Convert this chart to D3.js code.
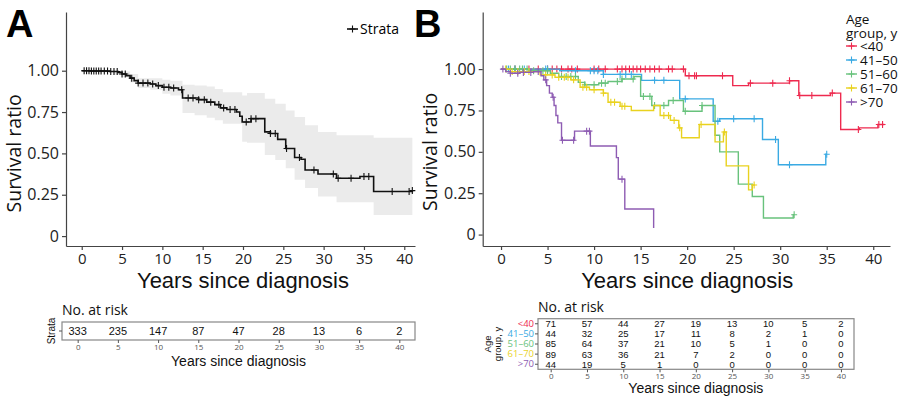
<!DOCTYPE html>
<html>
<head>
<meta charset="utf-8">
<script src="https://cdn.jsdelivr.net/npm/d3@7"></script>
<style>
  body { margin: 0; background: #fff; }
  svg { display: block; }
  .tick text { font-family: "Open Sans", sans-serif; }
</style>
</head>
<body>
<svg id="chart" width="900" height="397"></svg>
<script>
// ---- data ----
const yTicks = [0, 0.25, 0.5, 0.75, 1];
const yTickLabels = ["0", "0.25", "0.50", "0.75", "1.00"];
const xTicks = [0, 5, 10, 15, 20, 25, 30, 35, 40];

// panel A, all patients: [year, survival] steps
const allSteps = [[0,1.0],[1.0,0.998],[3.5,0.995],[4.5,0.99],[5.0,0.98],[5.5,0.97],[6.0,0.955],[6.5,0.94],[7.0,0.925],
  [8.5,0.92],[9.2,0.91],[10.0,0.9],[11.0,0.895],[12.0,0.885],[12.5,0.835],[14.5,0.825],[15.5,0.81],[16.5,0.795],
  [17.2,0.775],[18.0,0.765],[19.2,0.75],[19.6,0.725],[19.9,0.69],[21.0,0.71],[22.7,0.63],[23.4,0.62],[24.3,0.585],
  [25.3,0.53],[26.4,0.475],[27.2,0.465],[27.7,0.40],[29.3,0.375],[31.6,0.35],[34.5,0.36],[36.2,0.27],[41.0,0.275]];
const allCensored = [0.3,0.6,0.9,1.2,1.5,1.8,2.1,2.4,2.8,3.2,3.6,4.0,4.4,5.0,5.4,6.2,7.0,7.6,8.2,8.8,9.5,10.2,10.8,
  11.4,12.4,13.2,13.8,14.5,15.2,16.0,17.0,17.6,18.4,19.0,20.4,21.0,21.6,23.4,24.0,25.4,27.0,28.8,31.2,31.8,33.4,35.0,
  35.6,38.5,40.6,41.0];
// confidence band: [year, lower, upper]
const allBand = [[0,0.995,1.0],[2,0.99,1.0],[4,0.975,1.0],[5,0.96,0.995],[6,0.93,0.98],[7,0.895,0.955],[8.5,0.885,0.955],
  [10,0.86,0.945],[11,0.85,0.94],[12.5,0.745,0.915],[14,0.73,0.91],[15.5,0.715,0.905],[16.5,0.70,0.89],[17.5,0.68,0.87],
  [19.9,0.57,0.85],[20.5,0.565,0.865],[22.7,0.49,0.83],[24,0.46,0.80],[25.3,0.41,0.76],[26.4,0.34,0.72],[27.7,0.29,0.67],
  [29.3,0.24,0.63],[31.6,0.205,0.61],[36.2,0.128,0.595],[41.0,0.128,0.595]];
const allAtRisk = [333, 235, 147, 87, 47, 28, 13, 6, 2];

// panel B, age groups
const groups = ["<40", "41\u201350", "51\u201360", "61\u201370", ">70"];
const stepsU40 = [[0,1.0],[19.8,0.96],[24.9,0.90],[26.6,0.915],[31.0,0.93],[32.0,0.84],[35.4,0.855],[36.5,0.635],
  [38.5,0.645],[40.5,0.665],[41.2,0.665]];
const stepsA41 = [[0,1.0],[6.3,0.99],[11.0,0.968],[15.1,0.932],[19.2,0.82],[22.8,0.685],[23.5,0.70],[28.1,0.575],
  [29.8,0.422],[34.9,0.485],[35.0,0.485]];
const stepsA51 = [[0,1.0],[3.0,0.99],[5.3,0.975],[6.2,0.955],[8.3,0.92],[9.0,0.905],[10.5,0.915],[11.5,0.925],
  [13.0,0.94],[14.3,0.955],[15.0,0.835],[16.2,0.78],[18.0,0.81],[19.6,0.745],[21.6,0.78],[23.0,0.60],[23.5,0.50],
  [25.5,0.305],[27.0,0.23],[28.2,0.10],[31.4,0.12],[31.5,0.12]];
const stepsA61 = [[0,1.0],[1.0,0.985],[4.2,0.965],[5.8,0.95],[7.5,0.935],[8.5,0.89],[9.5,0.875],[11.0,0.855],
  [11.5,0.80],[12.8,0.775],[14.0,0.75],[16.4,0.78],[17.1,0.72],[18.2,0.69],[19.1,0.645],[19.4,0.585],[21.3,0.665],
  [23.0,0.56],[23.9,0.62],[24.2,0.415],[26.6,0.27],[27.0,0.30],[27.3,0.30]];
const stepsO70 = [[0,1.0],[0.5,0.985],[1.0,0.975],[2.0,0.98],[3.5,0.985],[4.3,0.96],[4.6,0.935],[4.9,0.90],
  [5.2,0.855],[5.5,0.83],[5.7,0.78],[5.9,0.72],[6.1,0.675],[6.5,0.57],[7.9,0.625],[9.6,0.535],[12.4,0.465],
  [12.6,0.335],[13.3,0.155],[16.4,0.04]];
const censU40 = [1.5,3,4,5,5.5,6.0,6.5,7.2,7.6,8.2,10,10.5,11.2,12.5,13,13.4,13.8,14.2,14.6,15,15.5,16,16.5,17,18,
  18.4,19.6,20.2,20.8,21.0,23.8,26.8,29.2,31.0,32.1,33.4,35.6,38.4,40.6,41.0];
const censA41 = [0.8,1.5,2.5,4.8,5.0,8.0,9.6,10.0,10.4,11.0,12.8,13.4,14.0,16.5,17.5,19.8,23.3,25.0,27.2,29.5,31.0,35.0];
const censA51 = [0.6,1.0,1.5,2.0,2.3,2.8,3.5,4.5,5.0,6.5,7.0,7.5,8.0,9.0,10.0,10.8,11.2,12.5,13.0,14.2,15.3,16.0,
  16.5,17.5,18.5,19.8,21.6,31.5];
const censA61 = [0.5,1.2,1.8,2.5,3.0,4.8,5.5,6.2,6.8,7.2,7.8,8.8,9.2,10.0,11.0,11.8,12.2,13.0,13.3,17.5,18.0,18.6,
  19.2,21.5,24.0,27.2];
const censO70 = [0.2,1.0,1.8,2.4,3.2,4.0,4.8,5.6,6.6,7.8,9.2,9.5,13.0];
const atRiskU40 = [71, 57, 44, 27, 19, 13, 10, 5, 2];
const atRiskA41 = [44, 32, 25, 17, 11, 8, 2, 1, 0];
const atRiskA51 = [85, 64, 37, 21, 10, 5, 1, 0, 0];
const atRiskA61 = [89, 63, 36, 21, 7, 2, 0, 0, 0];
const atRiskO70 = [44, 19, 5, 1, 0, 0, 0, 0, 0];

const groupColors = ["#ee2a4f", "#3aaae3", "#68c27c", "#e9d21f", "#8e5cb3"];
const groupSteps = [stepsU40, stepsA41, stepsA51, stepsA61, stepsO70];
const groupCens = [censU40, censA41, censA51, censA61, censO70];
const groupRisk = [atRiskU40, atRiskA41, atRiskA51, atRiskA61, atRiskO70];

const svg = d3.select("#chart");
const axisColor = "#444";
const arial = "Liberation Sans, Arial, sans-serif";
const open = "Open Sans, sans-serif";

function survAt(steps, t) {
  let v = steps[0][1];
  for (const s of steps) { if (s[0] <= t) v = s[1]; }
  return v;
}

function plusPath(x, y) {
  return `M${x - 3},${y}H${x + 3}M${x},${y - 3.5}V${y + 3.5}`;
}

function drawPanel(o) {
  const x = d3.scaleLinear().domain(o.xDomain).range(o.xRange);
  const y = d3.scaleLinear().domain(o.yDomain).range([246, 12]);
  const g = svg.append("g");

  if (o.band) {
    g.append("path").datum(o.band)
      .attr("fill", "#ebebeb")
      .attr("d", d3.area().curve(d3.curveStepAfter)
        .x(d => x(d[0])).y0(d => y(d[1])).y1(d => y(d[2])));
  }

  o.series.forEach(s => {
    g.append("path").datum(s.steps)
      .attr("fill", "none").attr("stroke", s.color).attr("stroke-width", o.lw)
      .attr("d", d3.line().curve(d3.curveStepAfter).x(d => x(d[0])).y(d => y(d[1])));
    g.append("g").selectAll("path").data(s.cens).join("path")
      .attr("fill", "none").attr("stroke", s.color).attr("stroke-width", 1.1)
      .attr("d", t => plusPath(x(t), y(survAt(s.steps, t))));
  });

  const ax = g.append("g").attr("transform", "translate(0,246)")
    .call(d3.axisBottom(x).tickValues(xTicks).tickSize(4).tickPadding(3).tickSizeOuter(0));
  ax.selectAll("text").attr("font-size", 15).attr("fill", "#222");
  const ay = g.append("g").attr("transform", `translate(${o.xRange[0]},0)`)
    .call(d3.axisLeft(y).tickValues(yTicks).tickFormat((d, i) => yTickLabels[i]).tickSize(4).tickPadding(3).tickSizeOuter(0));
  ay.selectAll("text").attr("font-size", 16).attr("fill", "#222");
  [ax, ay].forEach(a => { a.selectAll("line,path").attr("stroke", axisColor).attr("stroke-width", 1.2); });

  g.append("text").attr("x", (x(0) + x(40)) / 2).attr("y", 288).attr("text-anchor", "middle")
    .attr("font-family", arial).attr("font-size", 22).attr("fill", "#111")
    .text("Years since diagnosis");
  g.append("text").attr("transform", `translate(${o.yTitleX},${y(0.5)}) rotate(-90)`)
    .attr("text-anchor", "middle").attr("font-family", open).attr("font-size", 19.5).attr("fill", "#111")
    .text("Survival ratio");
  g.append("text").attr("x", o.letterX).attr("y", 37)
    .attr("font-family", arial).attr("font-weight", "bold").attr("font-size", 38)
    .text(o.letter);
}

drawPanel({
  letter: "A", letterX: 6, yTitleX: 21,
  xDomain: [-1.95, 41.33], xRange: [66, 415],
  yDomain: [-0.06, 1.355],
  band: allBand, lw: 1.6,
  series: [{ steps: allSteps, cens: allCensored, color: "#111" }]
});

drawPanel({
  letter: "B", letterX: 414, yTitleX: 437,
  xDomain: [-1.97, 41.8], xRange: [482.7, 890],
  yDomain: [-0.069, 1.345],
  lw: 1.4,
  series: groups.map((gname, i) => ({ steps: groupSteps[i], cens: groupCens[i], color: groupColors[i] }))
});

// legend A
const legA = svg.append("g");
legA.append("path").attr("d", "M347,29H358").attr("stroke", "#111").attr("stroke-width", 1.6);
legA.append("path").attr("d", plusPath(352.5, 29)).attr("stroke", "#111").attr("stroke-width", 1.1);
legA.append("text").attr("x", 360).attr("y", 34).attr("font-family", open).attr("font-size", 14).text("Strata");

// legend B
const legB = svg.append("g").attr("font-family", open).attr("font-size", 13.5).attr("fill", "#111");
legB.append("text").attr("x", 846).attr("y", 24).text("Age");
legB.append("text").attr("x", 846).attr("y", 38).text("group, y");
groups.forEach((gname, i) => {
  const yy = 46 + i * 14;
  legB.append("path").attr("d", `M846,${yy}H857`).attr("stroke", groupColors[i]).attr("stroke-width", 1.4);
  legB.append("path").attr("d", plusPath(851.5, yy)).attr("stroke", groupColors[i]).attr("stroke-width", 1.1);
  legB.append("text").attr("x", 860).attr("y", yy + 5).text(gname);
});

// risk tables
function drawTable(o) {
  const x = d3.scaleLinear().domain(o.xDomain).range([o.left, o.right]);
  const rows = d3.scaleBand().domain(o.labels).range([o.top, o.bottom]);
  const g = svg.append("g");
  g.append("text").attr("x", o.left).attr("y", o.top - 7).attr("font-family", open)
    .attr("font-size", 14).attr("fill", "#111").text("No. at risk");
  g.append("rect").attr("x", o.left).attr("y", o.top).attr("width", o.right - o.left).attr("height", o.bottom - o.top)
    .attr("fill", "none").attr("stroke", "#888").attr("stroke-width", 1.2);
  o.data.forEach((vals, r) => {
    g.append("g").selectAll("text").data(vals).join("text")
      .attr("x", (d, i) => x(xTicks[i])).attr("y", rows(o.labels[r]) + rows.bandwidth() / 2)
      .attr("dy", "0.36em").attr("text-anchor", "middle")
      .attr("font-family", arial).attr("font-size", o.fs).attr("fill", "#111")
      .text(d => d);
  });
  const ay = g.append("g").attr("transform", `translate(${o.left},0)`)
    .call(d3.axisLeft(rows).tickSize(3).tickPadding(1));
  ay.select(".domain").remove();
  ay.selectAll("line").attr("stroke", "#555");
  ay.selectAll("text").attr("font-size", o.labelFs).attr("font-family", arial)
    .attr("fill", (d, i) => o.labelColors ? o.labelColors[i] : "#111");
  if (!o.showLabels) ay.selectAll("text").remove();
  const ax = g.append("g").attr("transform", `translate(0,${o.bottom})`)
    .call(d3.axisBottom(x).tickValues(xTicks).tickSize(3).tickPadding(1));
  ax.select(".domain").remove();
  ax.selectAll("line").attr("stroke", "#555");
  ax.selectAll("text").attr("font-size", 8).attr("fill", "#555").attr("font-family", arial);
  g.append("text").attr("x", (x(0) + x(40)) / 2).attr("y", o.bottom + o.xTitleGap).attr("text-anchor", "middle")
    .attr("font-family", arial).attr("font-size", 14).attr("fill", "#111")
    .text("Years since diagnosis");
  const t = g.append("text").attr("transform", `translate(${o.titleX},${(o.top + o.bottom) / 2}) rotate(-90)`)
    .attr("text-anchor", "middle").attr("font-family", arial)
    .attr("font-size", o.titleFs).attr("fill", "#111");
  o.title.forEach((line, i) => t.append("tspan").attr("x", 0).attr("dy", i === 0 ? 0 : "1.05em").text(line));
}

drawTable({
  left: 62, right: 415, top: 322, bottom: 340, xDomain: [-1.95, 41.95],
  labels: ["Strata"], data: [allAtRisk], fs: 11, labelFs: 10, showLabels: false,
  title: ["Strata"], titleX: 55, titleFs: 10, xTitleGap: 26
});

drawTable({
  left: 538, right: 854, top: 318.7, bottom: 369.3, xDomain: [-1.75, 41.8],
  labels: groups, data: groupRisk, fs: 9.5, labelFs: 9.5, showLabels: true, labelColors: groupColors,
  title: ["Age", "group, y"], titleX: 491, titleFs: 9.5, xTitleGap: 24
});
</script>
</body>
</html>
